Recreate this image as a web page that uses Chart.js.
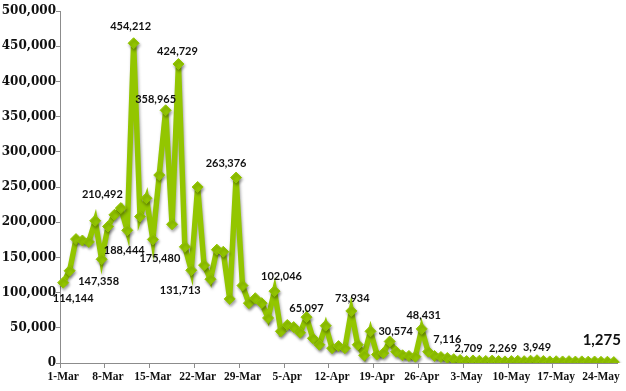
<!DOCTYPE html>
<html>
<head>
<meta charset="utf-8">
<script src="https://cdn.jsdelivr.net/npm/chart.js@4"></script>
<style>
  html, body { margin: 0; padding: 0; background: #fff; }
  #wrap { width: 626px; height: 391px; }
</style>
</head>
<body>
<div id="wrap"><canvas id="chart" width="626" height="391"></canvas></div>
<script>
// Daily cases, 1-Mar to 26-May
const months = ["Mar", "Apr", "May"];
const monthDays = [31, 30, 26];

const marchCases = [
  114144, 131000, 176000, 174000, 172000, 202000, 147358, 194000, 210492, 220000,
  188444, 454212, 208000, 234000, 175480, 267000, 358965, 197000, 424729, 165000,
  131713, 250000, 139000, 119000, 161000, 158000, 91000, 263376, 110000, 85000,
  92000,
];
const aprilCases = [
  85000, 64000, 102046, 45000, 54000, 51000, 43000, 65097, 35000, 26000,
  53000, 21000, 24000, 21000, 73934, 26000, 11000, 45000, 12000, 14000,
  30574, 16000, 11000, 10000, 9000, 48431, 16000, 10000, 8500, 7116,
];
const mayCases = [
  5500, 4300, 2709, 3600, 3200, 2900, 3400, 2800, 2269, 2700,
  3100, 2600, 3300, 3949, 2800, 2300, 2500, 2200, 2600, 2000,
  2300, 1900, 2100, 1700, 1800, 1275,
];

const yTicks = [0, 50000, 100000, 150000, 200000, 250000, 300000, 350000, 400000, 450000, 500000];

const categories = [];
months.forEach((m, k) => {
  for (let d = 1; d <= monthDays[k]; d++) categories.push(d + "-" + m);
});
const cases = [...marchCases, ...aprilCases, ...mayCases];

// which points get a value label, and where the label sits relative to the point
const labelOffsets = {
  0: [10, 16], 6: [-3, 22], 8: [-12, -20], 10: [-3, 20], 11: [-3, -17],
  14: [7, 19], 16: [-10, -11], 18: [-1, -13], 20: [-11, 20], 27: [-10, -14],
  33: [7, -15], 38: [0, -9], 45: [1, -12], 51: [6, -10], 56: [2, -13],
  60: [0, -19], 63: [2, -13], 69: [-2, -13], 74: [0, -13], 86: [-12, -22],
};

const green = "#93c600";
const axisGray = "#8c8c8c";

const shadowAndLabels = {
  id: "shadowAndLabels",
  beforeDatasetsDraw(chart) {
    const ctx = chart.ctx;
    ctx.save();
    ctx.shadowColor = "rgba(0,0,0,0.35)";
    ctx.shadowBlur = 3;
    ctx.shadowOffsetX = 1;
    ctx.shadowOffsetY = 2;
  },
  afterDatasetsDraw(chart) {
    const ctx = chart.ctx;
    ctx.restore();
    const meta = chart.getDatasetMeta(0);
    ctx.save();
    ctx.textAlign = "center";
    ctx.textBaseline = "middle";
    ctx.fillStyle = "#111";
    Object.keys(labelOffsets).forEach((k) => {
      const i = Number(k);
      const pt = meta.data[i];
      const [dx, dy] = labelOffsets[k];
      const last = i === cases.length - 1;
      ctx.font = last ? "bold 15px Lato" : "bold 11px Lato";
      ctx.fillText(cases[i].toLocaleString("en-US"), pt.x + dx, pt.y + dy);
    });
    ctx.restore();
  },
};

new Chart(document.getElementById("chart"), {
  type: "line",
  data: {
    labels: categories,
    datasets: [
      {
        data: cases,
        borderColor: green,
        backgroundColor: green,
        borderWidth: 5.5,
        tension: 0,
        pointStyle: "rectRot",
        pointRadius: 5.5,
        pointBorderWidth: 1,
        pointBorderColor: green,
        pointBackgroundColor: green,
      },
    ],
  },
  options: {
    responsive: false,
    animation: false,
    events: [],
    layout: { padding: { top: 11, right: 9, left: 0, bottom: 0 } },
    plugins: { legend: { display: false }, tooltip: { enabled: false } },
    scales: {
      x: {
        offset: true,
        afterFit(s) { s.height = 28; },
        border: { color: axisGray, width: 1 },
        grid: {
          offset: true,
          drawOnChartArea: false,
          tickLength: 5,
          color: (c) => (c.index % 7 === 0 ? axisGray : "rgba(0,0,0,0)"),
        },
        ticks: {
          autoSkip: false,
          maxRotation: 0,
          padding: 2,
          color: "#111",
          font: { family: "Liberation Serif", weight: "bold", size: 11.5 },
          callback: (v, i) => (i % 7 === 0 ? categories[i] : ""),
        },
      },
      y: {
        min: 0,
        max: 500000,
        afterFit(s) { s.width = 60; },
        afterBuildTicks(s) { s.ticks = yTicks.map((v) => ({ value: v })); },
        border: { color: axisGray, width: 1 },
        grid: { drawOnChartArea: false, tickLength: 4, color: axisGray },
        ticks: {
          padding: 0,
          color: "#111",
          font: { family: "DejaVu Serif", weight: "bold", size: 12 },
          callback: (v) => v.toLocaleString("en-US"),
        },
      },
    },
  },
  plugins: [shadowAndLabels],
});
</script>
</body>
</html>
